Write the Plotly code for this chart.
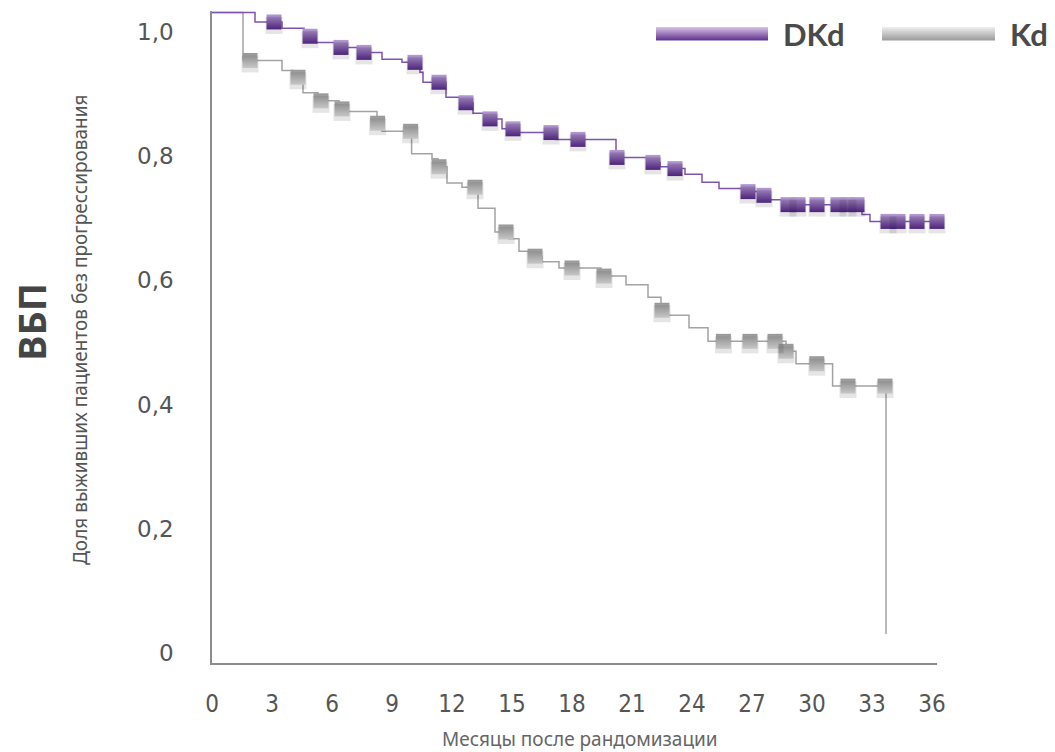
import numpy as np
import plotly.graph_objects as go

# Kaplan-Meier step data (months, survival fraction) ------------------------
dkd_t = [0, 2.15, 3.5, 4.6, 5.2, 6.15, 7.4, 8.5, 9.5, 10.4, 10.55, 11.7, 12.4,
         13.05, 13.6, 14.5, 15.2, 17.2, 20.2, 22.0, 22.4, 23.0, 23.65, 24.5,
         25.35, 26.6, 27.4, 27.9, 28.5, 32.5, 32.9]
dkd_s = [1.0, 0.985, 0.975, 0.962, 0.952, 0.944, 0.936, 0.925, 0.920, 0.904,
         0.888, 0.864, 0.855, 0.838, 0.829, 0.813, 0.807, 0.796, 0.767, 0.759,
         0.752, 0.749, 0.740, 0.727, 0.717, 0.712, 0.706, 0.699, 0.691, 0.675,
         0.664]
dkd_censor = [3.1, 4.9, 6.45, 7.6, 10.15, 11.35, 12.7, 13.9, 15.05, 16.95, 18.3,
              20.25, 22.05, 23.15, 26.8, 27.6, 28.8, 29.3, 30.25, 31.3, 31.8,
              32.25, 33.8, 34.3, 35.25, 36.25]

kd_t = [0, 1.55, 3.5, 4.05, 4.55, 5.3, 6.35, 6.7, 8.25, 8.5, 9.98, 11.0, 11.3,
        11.75, 12.5, 13.3, 14.15, 14.85, 15.35, 16.0, 16.5, 17.35, 19.45, 20.7,
        21.8, 22.45, 22.6, 23.85, 24.8, 28.7, 29.2, 31.03, 33.7]
kd_s = [1.0, 0.923, 0.907, 0.896, 0.871, 0.858, 0.845, 0.841, 0.822, 0.809,
        0.773, 0.765, 0.752, 0.726, 0.719, 0.685, 0.647, 0.636, 0.616, 0.608,
        0.599, 0.589, 0.576, 0.562, 0.542, 0.521, 0.513, 0.493, 0.471, 0.455,
        0.435, 0.399, 0.0]
kd_censor = [1.9, 4.3, 5.45, 6.5, 8.28, 9.93, 11.35, 13.15, 14.7, 16.15, 18.0,
             19.6, 22.5, 25.57, 26.9, 28.15, 28.7, 30.24, 31.8, 33.65]

x_ticks = list(range(0, 37, 3))
y_ticks = [0, 0.2, 0.4, 0.6, 0.8, 1.0]
y_tick_text = ["0", "0,2", "0,4", "0,6", "0,8", "1,0"]

series_names = ["DKd", "Kd"]

# Styling -------------------------------------------------------------------
W, H = 1055, 752
M_L, M_R, M_T, M_B = 212, 118, 11, 89
X_RANGE = [0, 36.25]
Y_RANGE = [-0.0466, 1.0026]

PURPLE_LINE = "#7d55ad"
GRAY_LINE = "#a3a3a3"
TEXT = "#555555"

plot_w = W - M_L - M_R
plot_h = H - M_T - M_B

# Drop shadows for the censor marks are drawn on a hidden overlay axis whose
# range is nudged so the same values land a few pixels lower.
SHADOW_PX = 3.5
_shift = SHADOW_PX * (Y_RANGE[1] - Y_RANGE[0]) / plot_h
SHADOW_RANGE = [Y_RANGE[0] + _shift, Y_RANGE[1] + _shift]


def surv_at(times, surv, when):
    """Value of a right-continuous step function at the given times."""
    idx = np.searchsorted(np.asarray(times), np.asarray(when), side="right") - 1
    return np.asarray(surv)[idx]


fig = go.Figure()

# Kd curve (drawn first so DKd sits on top where they overlap)
fig.add_trace(go.Scatter(x=kd_t, y=kd_s, mode="lines", line_shape="hv",
                         line=dict(color=GRAY_LINE, width=1.5), hoverinfo="skip"))
# DKd curve, carried on to the last follow-up time
fig.add_trace(go.Scatter(x=dkd_t + [max(dkd_censor)], y=dkd_s + [dkd_s[-1]],
                         mode="lines", line_shape="hv",
                         line=dict(color=PURPLE_LINE, width=1.5), hoverinfo="skip"))

kd_marks_y = surv_at(kd_t, kd_s, kd_censor)
dkd_marks_y = surv_at(dkd_t, dkd_s, dkd_censor)

# Soft shadows under the censoring marks
for xs, ys in ((kd_censor, kd_marks_y), (dkd_censor, dkd_marks_y)):
    fig.add_trace(go.Scatter(
        x=xs, y=ys, yaxis="y2", mode="markers",
        marker=dict(symbol="square", size=17, color="rgba(0,0,0,0.10)",
                    line=dict(width=0)),
        cliponaxis=False, hoverinfo="skip"))

# Censoring marks
fig.add_trace(go.Scatter(
    x=kd_censor, y=kd_marks_y, mode="markers",
    marker=dict(symbol="square", size=15, color="#959595",
                gradient=dict(type="vertical", color="#dedede"),
                line=dict(width=0)),
    cliponaxis=False, hoverinfo="skip"))
fig.add_trace(go.Scatter(
    x=dkd_censor, y=dkd_marks_y, mode="markers",
    marker=dict(symbol="square", size=15, color="#b69dd4",
                gradient=dict(type="vertical", color="#57288b"),
                line=dict(width=0)),
    cliponaxis=False, hoverinfo="skip"))


# Legend bars with a vertical colour fade, plus bold labels
def px_x(px):
    return (px - M_L) / plot_w


def px_y(py):
    return (H - M_B - py) / plot_h


def fade_bar(x0, x1, y0, y1, top, bottom, steps=13):
    t = np.array(top) / 255.0
    b = np.array(bottom) / 255.0
    h = (y1 - y0) / steps
    for i in range(steps):
        f = i / (steps - 1)
        c = (t * (1 - f) + b * f) * 255
        fig.add_shape(type="rect", xref="paper", yref="paper",
                      x0=px_x(x0), x1=px_x(x1),
                      y0=px_y(y0 + i * h), y1=px_y(y0 + (i + 1) * h + 0.4),
                      line=dict(width=0),
                      fillcolor="rgb(%d,%d,%d)" % tuple(c.round()))


fade_bar(656, 768, 27, 40, (214, 190, 228), (104, 58, 150))
fade_bar(882, 995, 27, 40, (236, 236, 236), (160, 160, 160))

legend_font = dict(family="Lato, 'Open Sans', sans-serif", size=31, color="#4a4a4a")
fig.add_annotation(text="<b>%s</b>" % series_names[0], xref="paper", yref="paper",
                   x=px_x(781), y=px_y(34), xanchor="left", yanchor="middle",
                   showarrow=False, font=legend_font)
fig.add_annotation(text="<b>%s</b>" % series_names[1], xref="paper", yref="paper",
                   x=px_x(1008), y=px_y(34), xanchor="left", yanchor="middle",
                   showarrow=False, font=legend_font)

# Side headline and axis captions
fig.add_annotation(text="<b>ВБП</b>", xref="paper", yref="paper",
                   x=px_x(31), y=px_y(322), xanchor="center", yanchor="middle",
                   textangle=-90, showarrow=False,
                   font=dict(family="'Open Sans', sans-serif", size=38, color="#454545"))
fig.add_annotation(text="Доля выживших пациентов без прогрессирования",
                   xref="paper", yref="paper", x=px_x(80), y=px_y(330),
                   xanchor="center", yanchor="middle", textangle=-90,
                   showarrow=False,
                   font=dict(family="'Noto Sans', sans-serif", size=19, color=TEXT))
fig.add_annotation(text="Месяцы после рандомизации", xref="paper", yref="paper",
                   x=px_x(580), y=px_y(739), xanchor="center", yanchor="middle",
                   showarrow=False,
                   font=dict(family="'Noto Sans', sans-serif", size=19, color="#666666"))

fig.update_layout(
    width=W, height=H,
    margin=dict(l=M_L, r=M_R, t=M_T, b=M_B, pad=0),
    paper_bgcolor="white", plot_bgcolor="white",
    showlegend=False,
    xaxis=dict(range=X_RANGE, tickvals=x_ticks, ticks="", showgrid=False,
               zeroline=False, showline=True, linecolor="#8c8c8c", linewidth=1.5,
               ticklabelstandoff=18,
               tickfont=dict(family="'Liberation Sans Narrow', 'DejaVu Sans Condensed', sans-serif",
                             size=24, color=TEXT)),
    yaxis=dict(range=Y_RANGE, tickvals=y_ticks, ticktext=y_tick_text, ticks="",
               showgrid=False, zeroline=False, showline=True, linecolor="#8c8c8c",
               linewidth=1.5, ticklabelstandoff=32, ticklabelshift=19,
               tickfont=dict(family="'DejaVu Sans', sans-serif", size=23, color=TEXT)),
    yaxis2=dict(range=SHADOW_RANGE, overlaying="y", visible=False,
                showgrid=False, zeroline=False),
)

fig.write_html("out.html")
